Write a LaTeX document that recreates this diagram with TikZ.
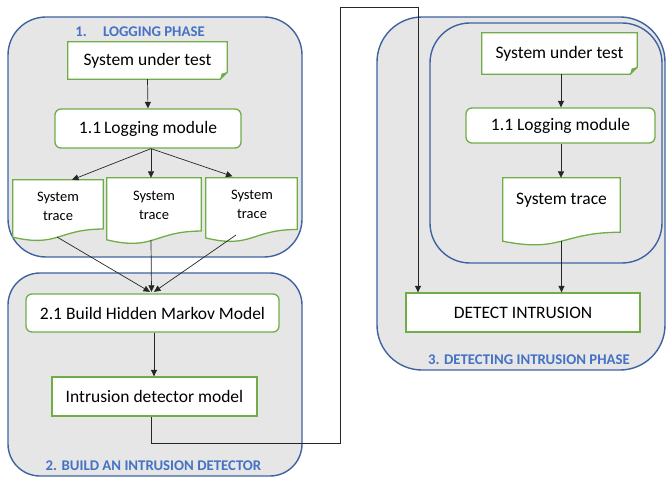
\documentclass[tikz,border=0pt]{standalone}
\usepackage{fontspec}
\setmainfont{Carlito}
\usetikzlibrary{arrows.meta,calc}
\definecolor{grayfill}{HTML}{E7E6E6}
\definecolor{frame}{HTML}{3F63A0}
\definecolor{grn}{HTML}{70AD47}
\definecolor{ttlblue}{HTML}{4472C4}
\tikzset{
  phase/.style={draw=frame, fill=grayfill, line width=1.4pt, inner sep=0pt},
  gbox/.style={draw=grn, fill=white, line width=1.3pt, inner sep=0pt, font=\fontsize{17.5}{21}\selectfont},
  rbox/.style={gbox, rounded corners=6pt},
  plainnode/.style={inner sep=0pt, font=\fontsize{17.5}{21}\selectfont},
  docline/.style={draw=grn, fill=white, line width=1.3pt},
  conn/.style={draw=black!85, line width=0.7pt},
  arr/.style={conn, -{Triangle[length=6.5pt,width=6pt]}},
  ttl/.style={text=ttlblue, font=\bfseries\fontsize{14.8}{17}\selectfont, inner sep=0pt},
  trtxt/.style={inner sep=0pt, align=center, font=\fontsize{14.5}{19}\selectfont},
}
\newcommand\docshape[1]{%
  \filldraw[docline] let \p1=(#1.north west), \p2=(#1.south east), \n1={\y2-\y1} in
  (\x1,\y1) -- (\x2,\y1) -- ({\x2},{\y1+0.802*(\n1)})
  .. controls ({(\x1+\x2)/2},{\y1+0.802*(\n1)}) and ({(\x1+\x2)/2},{\y1+1.107*(\n1)}) ..
  ({\x1},{\y1+0.934*(\n1)}) -- cycle;}
\newcommand\foldshape[1]{%
  \filldraw[docline] (#1.north west) -- (#1.north east) -- ([yshift=7pt]#1.south east)
  -- ([xshift=-7pt]#1.south east) -- (#1.south west) -- cycle;
  \fill[grn] ([yshift=7pt]#1.south east) -- ([xshift=-7pt]#1.south east)
  -- ([xshift=-5.6pt,yshift=5.6pt]#1.south east) -- cycle;}
\begin{document}
\begin{tikzpicture}[x=1pt,y=-1pt]
\useasboundingbox (0,0) rectangle (666,478);
% phase frames
\node[phase, rounded corners=38pt, minimum width=294pt, minimum height=240pt] (p1) at (155,137) {};
\node[phase, rounded corners=32pt, minimum width=294pt, minimum height=203pt] (p2) at (155,374.5) {};
\node[phase, rounded corners=45pt, minimum width=288pt, minimum height=353pt] (p3) at (521,193.5) {};
\node[phase, rounded corners=40pt, minimum width=232pt, minimum height=240pt] (p3i) at (546,143) {};
% titles
\node[ttl] (t1) at (140,32) {1.\hspace{1.1em}LOGGING PHASE};
\node[ttl] (t2) at (153.5,466) {2. BUILD AN INTRUSION DETECTOR};
\node[ttl] (t3) at (529,360) {3. DETECTING INTRUSION PHASE};
% phase 1
\node[plainnode, minimum width=159pt, minimum height=37pt] (sut1) at (147.5,60.5) {};
\foldshape{sut1}
\node[plainnode] (sut1t) at (sut1.center) {System under test};
\node[rbox, minimum width=186pt, minimum height=39pt] (lm1) at (148,128.5) {1.1\,Logging module};
\node[inner sep=0pt, minimum width=90pt, minimum height=61pt] (tr1) at (58,210.5) {};
\node[inner sep=0pt, minimum width=94pt, minimum height=66pt] (tr2) at (154,211) {};
\node[inner sep=0pt, minimum width=91pt, minimum height=64pt] (tr3) at (251.5,210) {};
\docshape{tr1}\docshape{tr2}\docshape{tr3}
\node[trtxt] (tr1t) at (58,206.5) {System\\trace};
\node[trtxt] (tr2t) at (154,205) {System\\trace};
\node[trtxt] (tr3t) at (252,204) {System\\trace};
\coordinate (tr1b) at (57,237);
\coordinate (tr2b) at (151,240);
\coordinate (tr3b) at (236,235);
% phase 2
\node[rbox, minimum width=253pt, minimum height=38pt] (hmm) at (152.5,313) {2.1 Build Hidden Markov Model};
\node[gbox, minimum width=205pt, minimum height=39pt] (idm) at (154.5,396.5) {Intrusion detector model};
% phase 3
\node[plainnode, minimum width=155pt, minimum height=41pt] (sut3) at (559.5,53.5) {};
\foldshape{sut3}
\node[plainnode] (sut3t) at (sut3.center) {System under test};
\node[rbox, minimum width=189pt, minimum height=35pt] (lm3) at (560.5,125.5) {1.1 Logging module};
\node[inner sep=0pt, minimum width=117pt, minimum height=67.5pt] (tr4) at (561.5,211.75) {};
\docshape{tr4}
\node[plainnode] (tr4t) at (561.5,200) {System trace};
\coordinate (tr4b) at (561.5,241);
\node[gbox, minimum width=234pt, minimum height=39pt] (det) at (523,312.5) {DETECT INTRUSION};
% connectors phase 1
\draw[arr] (sut1.south) -- (lm1.north);
\draw[arr] ([xshift=3pt]lm1.south) -- ([xshift=14pt]tr1.north);
\draw[arr] ([xshift=3pt]lm1.south) -- ([xshift=-3pt]tr2.north);
\draw[arr] ([xshift=3pt]lm1.south) -- ([xshift=-19pt,yshift=1.5pt]tr3.north);
\draw[arr] (tr1b) -- ([xshift=-2.5pt,yshift=1.5pt]hmm.north);
\draw[arr] (tr2b) -- ([xshift=-1pt,yshift=1.5pt]hmm.north);
\draw[arr] (tr3b) -- ([xshift=1.5pt,yshift=1.5pt]hmm.north);
% phase 2
\draw[arr] ([xshift=1.5pt]hmm.south) -- ([xshift=-0.5pt]idm.north);
\coordinate (c1) at (340,443);
\coordinate (c2) at (418,7);
\draw[arr] ([xshift=-3.5pt]idm.south) |- (c1) |- (c2) -- (c2 |- det.north);
% phase 3
\draw[arr] ([xshift=1.5pt]sut3.south) -- ([xshift=0.5pt]lm3.north);
\draw[arr] ([xshift=0.5pt]lm3.south) -- ([xshift=-0.5pt]tr4.north);
\draw[arr] (tr4b) -- (tr4b |- det.north);
\end{tikzpicture}
\end{document}
